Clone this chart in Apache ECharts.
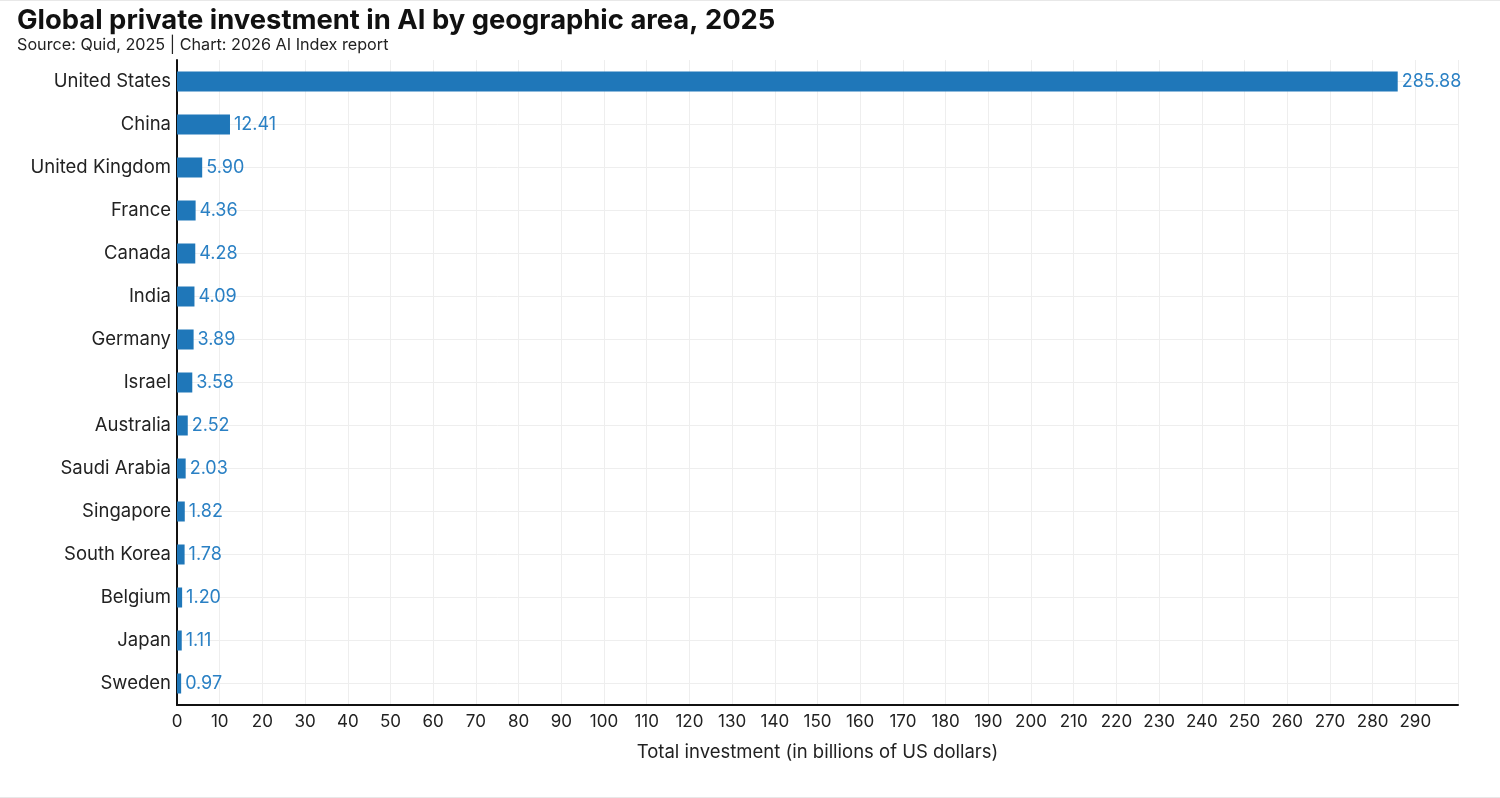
<!DOCTYPE html>
<html>
<head>
<meta charset="utf-8">
<title>Global private investment in AI by geographic area, 2025</title>
<script src="https://cdn.jsdelivr.net/npm/echarts@6/dist/echarts.min.js"></script>
<style>
  html, body { margin: 0; padding: 0; background: #fff; }
  #chart { width: 1500px; height: 798px; }
</style>
</head>
<body>
<div id="chart"></div>
<script>
// 国家 / 地区
const countries = [
  'United States', 'China', 'United Kingdom', 'France', 'Canada',
  'India', 'Germany', 'Israel', 'Australia', 'Saudi Arabia',
  'Singapore', 'South Korea', 'Belgium', 'Japan', 'Sweden'
]
// 投资额（十亿美元）
const investment = [
  285.88, 12.41, 5.90, 4.36, 4.28,
  4.09, 3.89, 3.58, 2.52, 2.03,
  1.82, 1.78, 1.20, 1.11, 0.97
]
const xMax = 300
const xInterval = 10

const FONT = 'Inter, "Noto Sans", sans-serif'
const BAR = '#1f77b9'

const chart = echarts.init(document.getElementById('chart'), null, { renderer: 'canvas' })

chart.setOption({
  animation: false,
  backgroundColor: '#fff',
  title: {
    text: 'Global private investment in AI by geographic area, 2025',
    subtext: 'Source: Quid, 2025 | Chart: 2026 AI Index report',
    left: 12,
    top: 2,
    itemGap: 3,
    textStyle: { fontFamily: FONT, fontSize: 27.4, fontWeight: 'bold', color: '#111' },
    subtextStyle: { fontFamily: FONT, fontSize: 16.2, color: '#222' },
  },
  // 上下的浅灰边线
  graphic: [
    { type: 'rect', left: 0, top: 0, shape: { width: 1500, height: 1 }, style: { fill: '#e8e8e8' }, silent: true },
    { type: 'rect', left: 0, bottom: 0, shape: { width: 1500, height: 1 }, style: { fill: '#e8e8e8' }, silent: true },
  ],
  grid: { left: 177, right: 42, top: 60, bottom: 93, containLabel: false },
  xAxis: {
    type: 'value',
    min: 0,
    max: xMax,
    interval: xInterval,
    name: 'Total investment (in billions of US dollars)',
    nameLocation: 'middle',
    nameGap: 38,
    nameTextStyle: { fontFamily: FONT, fontSize: 18.5, color: '#222' },
    axisLine: { show: true, lineStyle: { color: '#111', width: 2 } },
    axisTick: { show: false },
    axisLabel: { fontFamily: FONT, fontSize: 17, color: '#222', margin: 8, showMaxLabel: false },
    splitLine: { show: true, lineStyle: { color: '#eeeeee', width: 1 } },
  },
  yAxis: {
    type: 'category',
    data: countries,
    inverse: true,
    axisLine: { show: true, lineStyle: { color: '#111', width: 2 } },
    axisTick: { show: false },
    axisLabel: { fontFamily: FONT, fontSize: 18.5, color: '#222', margin: 6 },
    splitLine: { show: true, alignWithLabel: true, lineStyle: { color: '#eeeeee', width: 1 } },
  },
  series: [
    {
      type: 'bar',
      data: investment,
      barWidth: 20,
      itemStyle: { color: BAR },
      label: {
        show: true,
        position: 'right',
        distance: 4,
        fontFamily: FONT,
        fontSize: 18,
        color: '#2a80c4',
        formatter: (p) => p.value.toFixed(2),
      },
    },
  ],
})
</script>
</body>
</html>
